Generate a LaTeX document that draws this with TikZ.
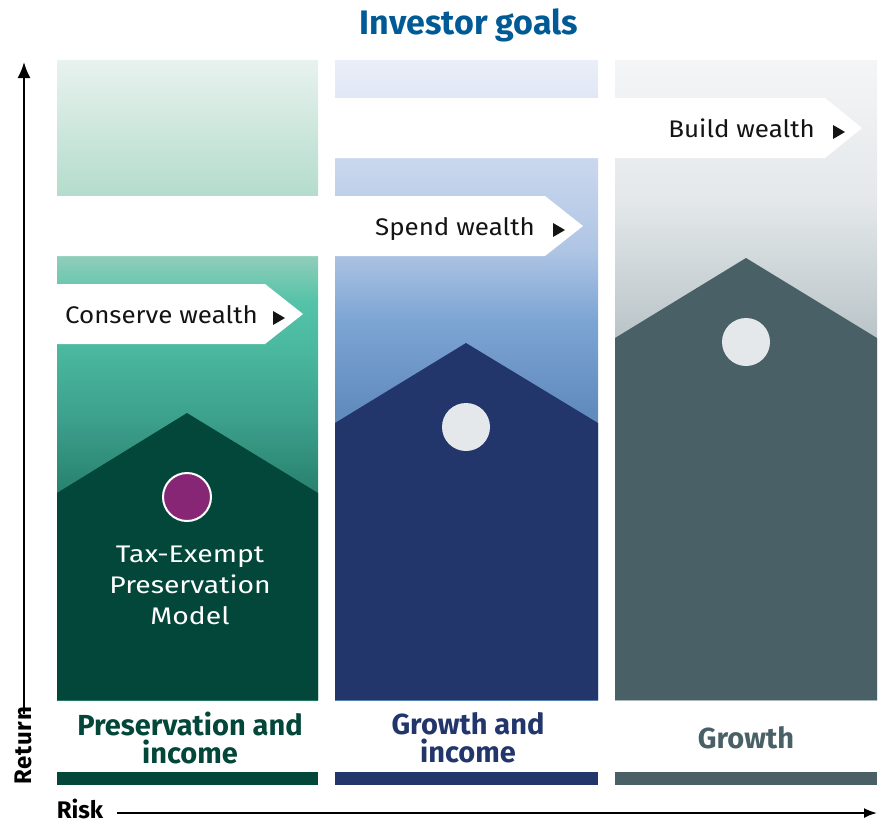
\documentclass[tikz,border=0pt]{standalone}
\usepackage{fontspec}
\setmainfont{Fira Sans}
\usepackage{xcolor}
\usepackage{tikz}
\usetikzlibrary{arrows.meta, positioning, calc}
\definecolor{IGTitle}{RGB}{0, 90, 150}
\definecolor{IGGreen}{RGB}{3, 71, 58}
\definecolor{IGNavy}{RGB}{35, 54, 107}
\definecolor{IGSlate}{RGB}{73, 96, 102}
\definecolor{IGPurple}{RGB}{134, 38, 117}
\definecolor{IGDot}{RGB}{228, 232, 235}
\definecolor{IGText}{RGB}{20, 20, 20}
% column backgrounds
\definecolor{gA}{RGB}{232, 242, 238}
\definecolor{gB}{RGB}{180, 220, 205}
\definecolor{gC}{RGB}{140, 205, 185}
\definecolor{gD}{RGB}{85, 195, 168}
\definecolor{gE}{RGB}{75, 185, 160}
\definecolor{gF}{RGB}{60, 160, 140}
\definecolor{gG}{RGB}{40, 130, 110}
\definecolor{bA}{RGB}{234, 238, 248}
\definecolor{bB}{RGB}{226, 232, 245}
\definecolor{bC}{RGB}{202, 215, 238}
\definecolor{bD}{RGB}{175, 197, 228}
\definecolor{bE}{RGB}{125, 165, 212}
\definecolor{bF}{RGB}{98, 140, 190}
\definecolor{sA}{RGB}{244, 245, 246}
\definecolor{sB}{RGB}{228, 232, 234}
\definecolor{sC}{RGB}{185, 196, 200}
\pgfdeclareverticalshading{greencol}{100bp}{color(0bp)=(gG); color(41.4bp)=(gG);
  color(46.9bp)=(gF); color(52.7bp)=(gE); color(56.2bp)=(gD); color(59.4bp)=(gC);
  color(64.4bp)=(gB); color(75bp)=(gA); color(100bp)=(gA)}
\pgfdeclareverticalshading{bluecol}{100bp}{color(0bp)=(bF); color(47.7bp)=(bF);
  color(54.7bp)=(bE); color(60.2bp)=(bD); color(67.2bp)=(bC); color(72.3bp)=(bB);
  color(75bp)=(bA); color(100bp)=(bA)}
\pgfdeclareverticalshading{slatecol}{100bp}{color(0bp)=(sC); color(53.1bp)=(sC);
  color(64.1bp)=(sB); color(75bp)=(sA); color(100bp)=(sA)}

\begin{document}
\begin{tikzpicture}[x=1pt, y=-1pt,
    goal/.style={font=\fontsize{24}{26}\selectfont, text=IGText, anchor=base east, inner sep=0pt, xscale=1.08},
    goaltip/.style={fill=IGText},
    dot/.style={circle, minimum size=48pt, inner sep=0pt},
    profile/.style={font=\fontsize{29}{28}\selectfont\bfseries, align=center},
    axisarrow/.style={line width=2pt, -{Latex[length=16pt, width=13pt]}}
  ]
  \useasboundingbox (0,0) rectangle (882,825);

  % title
  \node[font=\fontsize{34}{36}\selectfont\bfseries, text=IGTitle] (title) at (469,25) {Investor goals};

  % columns
  \shade[shading=greencol] (57,60) rectangle (318,700);
  \shade[shading=bluecol] (335,60) rectangle (598,700);
  \shade[shading=slatecol] (615,60) rectangle (877,700);

  % goal bands
  \fill[white] (335,98) -- (825,98) -- (862,128) -- (825,158) -- (335,158) -- cycle;
  \fill[white] (57,196) -- (545,196) -- (583,226) -- (545,256) -- (57,256) -- cycle;
  \fill[white] (57,284) -- (265,284) -- (303,314) -- (265,344) -- (57,344) -- cycle;
  \node[goal] (build) at (815,137) {Build wealth};
  \node[goal] (spend) at (535,235) {Spend wealth};
  \node[goal] (conserve) at (258,323) {Conserve wealth};
  \fill[goaltip] ([xshift=18pt, yshift=-2pt]build.base east) -- ++(0,-14) -- ++(12,7) -- cycle;
  \fill[goaltip] ([xshift=18pt, yshift=-2pt]spend.base east) -- ++(0,-14) -- ++(12,7) -- cycle;
  \fill[goaltip] ([xshift=15pt, yshift=-2pt]conserve.base east) -- ++(0,-14) -- ++(12,7) -- cycle;

  % houses
  \fill[IGGreen] (57,700) -- (57,493) -- (187,413) -- (318,493) -- (318,700) -- cycle;
  \fill[IGNavy] (335,700) -- (335,423) -- (466,343) -- (598,423) -- (598,700) -- cycle;
  \fill[IGSlate] (615,700) -- (615,338) -- (746,258) -- (877,338) -- (877,700) -- cycle;

  \node[dot, fill=IGPurple, draw=white, line width=2pt] (tem) at (187,497) {};
  \node[dot, fill=IGDot] (gi) at (466,427) {};
  \node[dot, fill=IGDot] (gr) at (746,342) {};
  \node[font=\fontsize{24}{31}\selectfont, text=white, align=center, xscale=1.18] (temname) at (190,585)
    {Tax-Exempt\\Preservation\\Model};

  % profiles
  \node[profile, text=IGGreen] (pi) at (190,738) {Preservation and\\income};
  \node[profile, text=IGNavy] (gai) at (468,738) {Growth and\\income};
  \node[profile, text=IGSlate] (gro) at (746,738) {Growth};
  \fill[IGGreen] (57,772) rectangle (318,785);
  \fill[IGNavy] (335,772) rectangle (598,785);
  \fill[IGSlate] (615,772) rectangle (877,785);

  % axes
  \node[rotate=90, font=\fontsize{24}{24}\selectfont\bfseries\addfontfeatures{LetterSpace=3}] (ret) at (23,746) {Return};
  \coordinate (rettop) at (24,62);
  \draw[axisarrow] ([yshift=-10pt]ret.east -| rettop) -- (rettop);
  \node[font=\fontsize{24}{24}\selectfont\bfseries, anchor=base, inner sep=0pt] (risk) at (80,818) {Risk};
  \coordinate (riskend) at (877,813);
  \draw[line width=2pt, -{Latex[length=13pt, width=10pt]}] (risk.east |- riskend) ++(14,0) -- (riskend);
\end{tikzpicture}
\end{document}
